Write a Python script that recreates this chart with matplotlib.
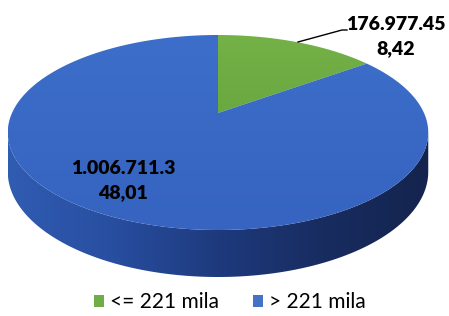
import numpy as np
import matplotlib
matplotlib.use("Agg")
import matplotlib.pyplot as plt
from matplotlib.patches import Polygon, Rectangle

# ---------------- data ----------------
categories = ["<= 221 mila", "> 221 mila"]
values = [176977.45, 1006711.3]
value_labels = ["176.977.45", "1.006.711.3"]
pct_labels = ["8,42", "48,01"]
legend_colors = ["#70ad47", "#4472c4"]

# ---------------- layout ----------------
W, H = 449, 316
fig = plt.figure(figsize=(W / 100, H / 100), dpi=100)
ax = fig.add_axes([0, 0, 1, 1])
ax.set_xlim(0, W)
ax.set_ylim(H, 0)
ax.axis("off")

CX, CY, A, B, P, D = 218, 113, 206, 93.6, 0.2, 37.6
FONT = ["Lato", "DejaVu Sans"]


def top_pt(t):
    u, v = np.cos(t), np.sin(t)
    d = 1 + P * v
    return CX + A * u / d, CY - B * v / d


def bot_pt(t):
    x, y = top_pt(t)
    v = np.sin(t)
    return x, y + D / (1 + P * v)


def grad_fill(poly_xy, cols, direction="x", z=1):
    n = 256
    cols = np.array(cols) / 255.0
    pos = np.linspace(0, 1, len(cols))
    s = np.linspace(0, 1, n)
    rgb = np.stack([np.interp(s, pos, cols[:, k]) for k in range(3)], axis=-1)
    xs, ys = poly_xy[:, 0], poly_xy[:, 1]
    x0, x1, y0, y1 = xs.min(), xs.max(), ys.min(), ys.max()
    img = rgb[np.newaxis, :, :] if direction == "x" else rgb[:, np.newaxis, :]
    im = ax.imshow(img, extent=[x0, x1, y1, y0], aspect="auto",
                   interpolation="bilinear", zorder=z)
    patch = Polygon(poly_xy, closed=True, facecolor="none", edgecolor="none")
    ax.add_patch(patch)
    im.set_clip_path(patch)


# ---------------- side (front, blue) ----------------
tl, tr = np.pi + np.arcsin(P), 2 * np.pi - np.arcsin(P)
ts = np.linspace(tl, tr, 200)
top_arc = np.array([top_pt(t) for t in ts])
bot_arc = np.array([bot_pt(t) for t in ts[::-1]])
side = np.vstack([top_arc, bot_arc])
grad_fill(side, [(48, 92, 178), (40, 78, 160), (30, 58, 125), (24, 44, 96), (20, 36, 78)], "x", z=1)

# ---------------- top face wedges ----------------
total = sum(values)
angles = [np.pi / 2]
for v in values:
    angles.append(angles[-1] - 2 * np.pi * v / total)
grad_sets = [
    [(116, 178, 72), (106, 168, 64)],
    [(60, 110, 202), (54, 100, 192)],
]
for i in range(len(values)):
    tt = np.linspace(angles[i], angles[i + 1], 300)
    arc = np.array([top_pt(t) for t in tt])
    poly = np.vstack([[CX, CY], arc])
    grad_fill(poly, grad_sets[i], "y", z=2)

# ---------------- labels ----------------
lab_kw = dict(fontsize=14, fontweight="heavy", color="black", family=FONT,
              ha="center", va="center", zorder=5)
ax.text(396, 24, value_labels[0], **lab_kw)
ax.text(396, 49, pct_labels[0], **lab_kw)
ax.plot([298, 342, 347], [42, 30, 30], color="black", lw=1.0, zorder=5)
ax.text(123, 168, value_labels[1], **lab_kw)
ax.text(123, 193, pct_labels[1], **lab_kw)

# ---------------- legend ----------------
handles = [Rectangle((0, 0), 1, 1, facecolor=c, edgecolor="none") for c in legend_colors]
ax.legend(handles, categories, loc="center", bbox_to_anchor=(230 / W, 1 - 302 / H),
          ncol=2, frameon=False, handlelength=0.5, handleheight=0.5,
          handletextpad=0.3, columnspacing=1.6,
          prop={"family": FONT, "size": 15})

fig.savefig("out.png", dpi=100)
